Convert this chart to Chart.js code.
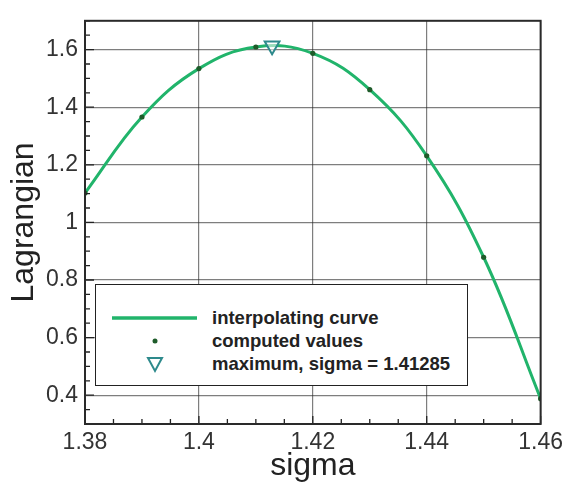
<!DOCTYPE html>
<html>
<head>
<meta charset="utf-8">
<script src="https://cdn.jsdelivr.net/npm/chart.js@4.4.1/dist/chart.umd.min.js"></script>
<style>
html, body { margin: 0; padding: 0; background: #fff; }
#wrap { position: relative; width: 568px; height: 493px; }
#legend {
    position: absolute; left: 95px; top: 284px; width: 371px; height: 100px;
    border: 1.5px solid #222; background: #fff;
    font-family: 'Liberation Sans', Arial, sans-serif; font-weight: bold; font-size: 18.5px; color: #222;
}
#legend svg { position: absolute; left: 0; top: 0; }
#legend .row { position: absolute; left: 116px; line-height: 20px; white-space: nowrap; }
</style>
</head>
<body>
<div id="wrap">
    <canvas id="myChart" width="568" height="493"></canvas>
    <div id="legend">
        <svg width="120" height="100">
            <line x1="16" y1="33" x2="101" y2="33" stroke="#21b46b" stroke-width="3.5"/>
            <circle cx="59" cy="56" r="2.5" fill="#1e5c2a"/>
            <polygon points="52,73 66,73 59,86" fill="#fff" stroke="#2e8a8c" stroke-width="2"/>
        </svg>
    </div>
</div>
<script>
const sigmaValues = [1.38, 1.39, 1.40, 1.41, 1.42, 1.43, 1.44, 1.45, 1.46];
const lagrangianValues = [1.102, 1.366, 1.534, 1.609, 1.587, 1.461, 1.231, 0.879, 0.388];
const maxSigma = [1.41285];
const maxLagrangian = [1.613];
const xTickValues = [1.38, 1.40, 1.42, 1.44, 1.46];
const yTickValues = [0.4, 0.6, 0.8, 1.0, 1.2, 1.4, 1.6];
const seriesLabels = ['interpolating curve', 'computed values', 'maximum, sigma = 1.41285'];

// legend text rows
const rowTops = [23, 46, 69];
seriesLabels.forEach((t, i) => {
    const d = document.createElement('div');
    d.className = 'row';
    d.style.top = rowTops[i] + 'px';
    d.textContent = t;
    document.getElementById('legend').appendChild(d);
});

const fontFamily = "'Liberation Sans', Arial, sans-serif";
const fmt = v => String(parseFloat(Number(v).toFixed(4)));

// frame plus inward major/minor tick marks on left and bottom
const frameAndTicks = {
    id: 'frameAndTicks',
    afterDatasetsDraw(chart) {
        const { ctx, chartArea: a, scales: { x, y } } = chart;
        ctx.save();
        ctx.strokeStyle = '#222';
        ctx.lineWidth = 1.3;
        ctx.beginPath();
        for (let i = 0; i <= 16; i++) {
            const px = x.getPixelForValue(1.38 + i * 0.005);
            ctx.moveTo(px, a.bottom);
            ctx.lineTo(px, a.bottom - (i % 4 === 0 ? 8 : 5));
        }
        for (let i = 0; i <= 28; i++) {
            const py = y.getPixelForValue(0.3 + i * 0.05);
            ctx.moveTo(a.left, py);
            ctx.lineTo(a.left + ((i - 2) % 4 === 0 ? 9 : 5), py);
        }
        ctx.stroke();
        ctx.lineWidth = 2;
        ctx.strokeStyle = '#2a2a2a';
        ctx.strokeRect(a.left, a.top, a.right - a.left, a.bottom - a.top);
        ctx.restore();
    }
};

const points = sigmaValues.map((s, i) => ({ x: s, y: lagrangianValues[i] }));
const maxPoint = maxSigma.map((s, i) => ({ x: s, y: maxLagrangian[i] }));

const ctx = document.getElementById('myChart').getContext('2d');
const myChart = new Chart(ctx, {
    type: 'scatter',
    data: {
        datasets: [{
            label: seriesLabels[0],
            data: points,
            showLine: true,
            borderColor: '#21b46b',
            borderWidth: 3,
            tension: 0.4,
            pointRadius: 0,
            order: 3
        }, {
            label: seriesLabels[1],
            data: points,
            pointRadius: 2.6,
            pointBackgroundColor: '#1e5c2a',
            pointBorderWidth: 0,
            order: 2
        }, {
            label: seriesLabels[2],
            data: maxPoint,
            pointStyle: 'triangle',
            rotation: 180,
            pointRadius: 8.5,
            pointBackgroundColor: 'rgba(255,255,255,0.55)',
            pointBorderColor: '#2e8a8c',
            pointBorderWidth: 2,
            order: 1
        }]
    },
    options: {
        responsive: false,
        animation: false,
        layout: { padding: { top: 7, right: 26, left: 0, bottom: 0 } },
        plugins: { legend: { display: false }, tooltip: { enabled: false } },
        scales: {
            x: {
                type: 'linear',
                min: 1.38,
                max: 1.46,
                afterBuildTicks: s => { s.ticks = xTickValues.map(v => ({ value: v })); },
                afterFit: s => { s.height = 69; },
                grid: { color: 'rgba(40,40,40,0.6)', lineWidth: 1.2, drawTicks: false },
                border: { display: false },
                ticks: { padding: 5, color: '#333', font: { family: fontFamily, size: 23 }, callback: fmt, maxRotation: 0 },
                title: { display: true, text: 'sigma', color: '#222', font: { family: fontFamily, size: 32 }, padding: { top: 0, bottom: 8 } }
            },
            y: {
                type: 'linear',
                min: 0.3,
                max: 1.7,
                afterBuildTicks: s => { s.ticks = yTickValues.map(v => ({ value: v })); },
                afterFit: s => { s.width = 85; },
                grid: { color: 'rgba(40,40,40,0.6)', lineWidth: 1.2, drawTicks: false },
                border: { display: false },
                ticks: { padding: 7, color: '#333', font: { family: fontFamily, size: 23 }, callback: fmt },
                title: { display: true, text: 'Lagrangian', color: '#222', font: { family: fontFamily, size: 32 }, padding: { top: 5, bottom: 0 } }
            }
        }
    },
    plugins: [frameAndTicks]
});
</script>
</body>
</html>
